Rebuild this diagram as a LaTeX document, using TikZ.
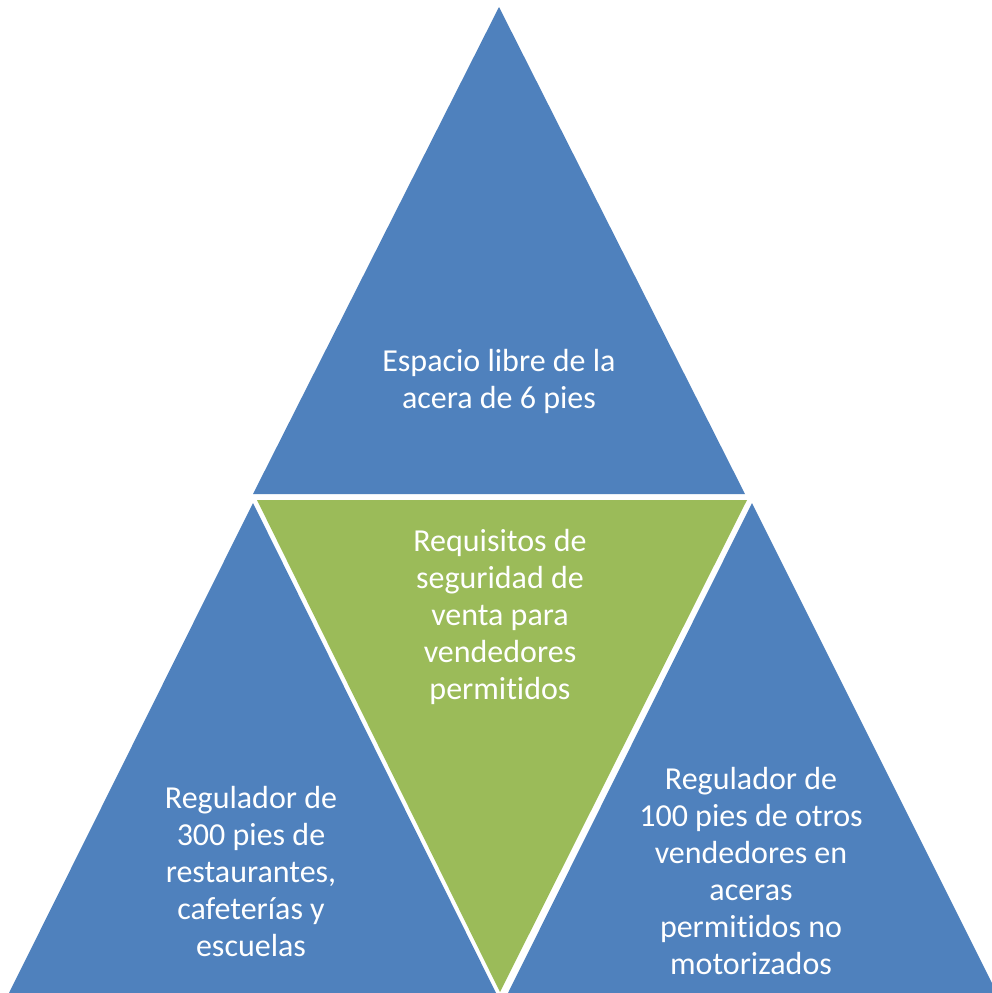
\documentclass[tikz,border=0pt]{standalone}
\usepackage{fontspec}
\setmainfont[Ligatures={NoCommon,NoRequired},Contextuals=NoAlternate]{Carlito}
\definecolor{triblue}{HTML}{4F81BD}
\definecolor{trigreen}{HTML}{9BBB59}
\begin{document}
\begin{tikzpicture}[x=0.5pt,y=-0.5pt,
  lbl/.style={text=white,align=center,font=\fontsize{16pt}{18.5pt}\selectfont,inner sep=0pt}]
\useasboundingbox[fill=white] (0,0) rectangle (992,993);
\clip (0,0) rectangle (992,993);
\fill[triblue] (499,7) -- (253,494) -- (745,494) -- cycle;
\fill[trigreen] (257,500) -- (747,500) -- (500,992) -- cycle;
\fill[triblue] (253,503) -- (8,995) -- (497,995) -- cycle;
\fill[triblue] (752,503) -- (507,995) -- (998,995) -- cycle;
\node[lbl] (top) at (499,381) {Espacio libre de la\\acera de 6 pies};
\node[lbl] (mid) at (500,617) {Requisitos de\\seguridad de\\venta para\\vendedores\\permitidos};
\node[lbl] (left) at (251,871) {Regulador de\\300 pies de\\restaurantes,\\cafeterías y\\escuelas};
\node[lbl] (right) at (751,871) {Regulador de\\100 pies de otros\\vendedores en\\aceras\\permitidos no\\motorizados};
\end{tikzpicture}
\end{document}
